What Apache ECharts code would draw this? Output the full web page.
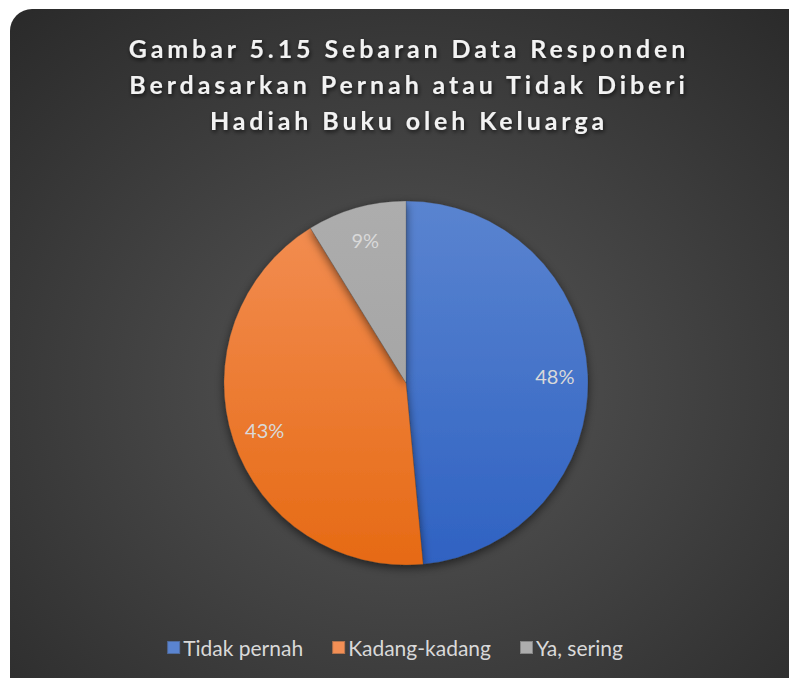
<!DOCTYPE html>
<html>
<head>
<meta charset="utf-8">
<script src="https://cdn.jsdelivr.net/npm/echarts@6/dist/echarts.min.js"></script>
<style>
  html, body { margin: 0; padding: 0; background: #fff; }
  #main { width: 789px; height: 678px; }
</style>
</head>
<body>
<div id="main"></div>
<script>
// data
const categories = ['Tidak pernah', 'Kadang-kadang', 'Ya, sering'];
const values = [48.5, 42.7, 8.8];
const titleLines = [
  'Gambar 5.15 Sebaran Data Responden',
  'Berdasarkan Pernah atau Tidak Diberi',
  'Hadiah Buku oleh Keluarga'
];

// warna ala excel, gradasi atas -> bawah
const fills = [
  ['#5A84D0', '#2F62C2'],
  ['#F38F55', '#E66A14'],
  ['#ADADAD', '#9E9E9E']
];
function grad(c) {
  return new echarts.graphic.LinearGradient(0, 201, 0, 565, [
    { offset: 0, color: c[0] },
    { offset: 1, color: c[1] }
  ], true);
}

const pieData = categories.map(function (name, i) {
  return { name: name, value: values[i], itemStyle: { color: grad(fills[i]) } };
});
// seri transparan cuma buat naruh label lebih ke luar
const labelData = categories.map(function (name, i) {
  return { name: name, value: values[i] };
});

let myChart = echarts.init(document.getElementById('main'), null, { renderer: 'svg' });
myChart.setOption({
  backgroundColor: '#ffffff',
  animation: false,
  graphic: [{
    type: 'rect',
    z: -10,
    silent: true,
    shape: { x: 10, y: 9, width: 810, height: 700, r: 22 },
    style: {
      fill: new echarts.graphic.RadialGradient(0.49, 0.54, 0.85, [
        { offset: 0, color: '#575757' },
        { offset: 1, color: '#222222' }
      ])
    }
  }, {
    // judul (graphic biar bisa digeser ke tengah panel)
    type: 'text',
    x: 409,
    y: 30,
    silent: true,
    style: {
      text: titleLines.join('\n'),
      align: 'center',
      verticalAlign: 'top',
      fontFamily: 'Lato',
      fontWeight: 'bold',
      fontSize: 25,
      lineHeight: 36,
      fill: '#F2F2F2',
      textShadowColor: 'rgba(0,0,0,0.7)',
      textShadowBlur: 4,
      textShadowOffsetX: 1,
      textShadowOffsetY: 2
    }
  }],
  legend: {
    data: categories,
    left: 'center',
    top: 632,
    icon: 'rect',
    itemWidth: 13,
    itemHeight: 13,
    itemGap: 28,
    textStyle: {
      fontFamily: 'Lato',
      fontSize: 21,
      color: '#D9D9D9',
      padding: [0, 0, 0, -2]
    }
  },
  series: [
    {
      name: 'utama',
      type: 'pie',
      center: [406, 383],
      radius: 182,
      startAngle: 90,
      clockwise: true,
      percentPrecision: 0,
      label: { show: false },
      labelLine: { show: false },
      itemStyle: {
        borderColor: 'rgba(60,60,60,0.35)',
        borderWidth: 0.6,
        shadowColor: 'rgba(0,0,0,0.55)',
        shadowBlur: 10,
        shadowOffsetY: 3
      },
      emphasis: { disabled: true },
      data: pieData
    },
    {
      name: 'label',
      type: 'pie',
      center: [406, 383],
      radius: 292,
      startAngle: 90,
      clockwise: true,
      percentPrecision: 0,
      silent: true,
      z: 3,
      itemStyle: { color: 'rgba(0,0,0,0)' },
      label: {
        show: true,
        position: 'inside',
        formatter: '{d}%',
        fontFamily: 'Lato',
        fontSize: 20,
        color: '#D9D9D9'
      },
      labelLine: { show: false },
      emphasis: { disabled: true },
      data: labelData
    }
  ]
});

// spasi huruf judul (svg text)
function spaceTitle() {
  document.querySelectorAll('#main text').forEach(function (t) {
    if (titleLines.indexOf(t.textContent) >= 0) {
      t.style.letterSpacing = '3.9px';
    }
  });
}
spaceTitle();
myChart.on('finished', spaceTitle);
</script>
</body>
</html>
